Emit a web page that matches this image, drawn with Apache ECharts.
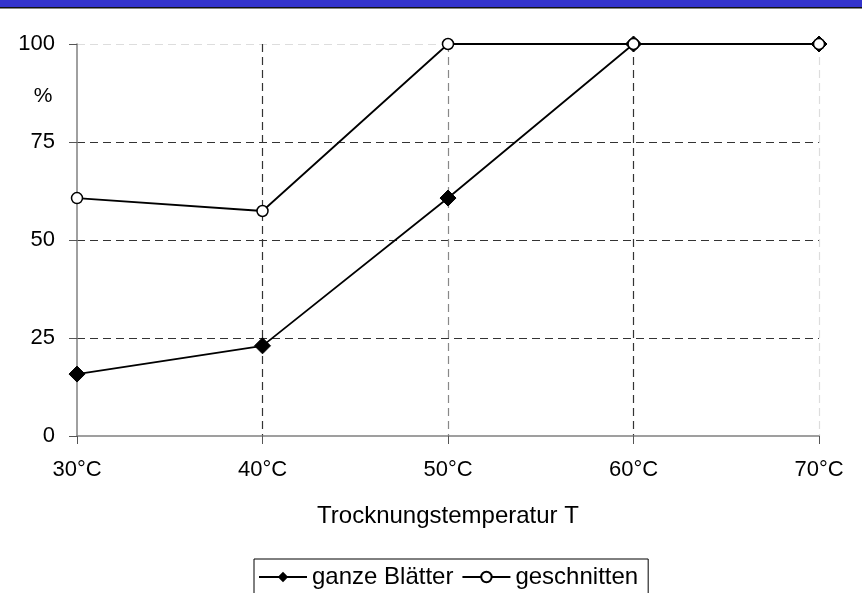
<!DOCTYPE html>
<html>
<head>
<meta charset="utf-8">
<script src="https://cdn.jsdelivr.net/npm/echarts@6/dist/echarts.min.js"></script>
<style>html,body{margin:0;padding:0;background:#fff;}#c{width:862px;height:593px;}</style>
</head>
<body>
<div id="c"></div>
<script>
var categories = ['30°C', '40°C', '50°C', '60°C', '70°C'];
var ganzeBlaetter = [15.8, 23.0, 60.7, 100, 100];
var geschnitten = [60.7, 57.4, 100, 100, 100];
var yTicks = [0, 25, 50, 75, 100];

var FONT = 'Liberation Sans, Arial, sans-serif';
var chart = echarts.init(document.getElementById('c'));
chart.setOption({
  animation: false,
  backgroundColor: '#fff',
  grid: {left: 77, right: 43, top: 44, bottom: 157},
  xAxis: {
    type: 'category',
    data: categories,
    boundaryGap: false,
    name: 'Trocknungstemperatur T',
    nameLocation: 'middle',
    nameGap: 68,
    nameTextStyle: {fontFamily: FONT, fontSize: 24, color: '#000'},
    axisLine: {lineStyle: {color: '#808080', width: 1.5}},
    axisTick: {show: true, length: 8, alignWithLabel: true, lineStyle: {color: '#555'}},
    axisLabel: {fontFamily: FONT, fontSize: 22, color: '#000', margin: 23},
    splitLine: {show: true, lineStyle: {color: ['rgba(0,0,0,0)', '#333', '#888', '#333', '#ddd'], type: [8, 5], width: 1.2}}
  },
  yAxis: {
    type: 'value',
    min: 0, max: 100, interval: 25,
    axisLine: {show: true, lineStyle: {color: '#808080', width: 1.5}},
    axisTick: {show: true, length: 8, lineStyle: {color: '#555'}},
    axisLabel: {fontFamily: FONT, fontSize: 22, color: '#000', margin: 22,
      formatter: function (v) { return yTicks.indexOf(v) >= 0 ? String(v) : ''; }},
    splitLine: {show: true, lineStyle: {color: ['rgba(0,0,0,0)', '#333', '#333', '#333', '#ddd'], type: [8, 5], width: 1.2}}
  },
  legend: {
    bottom: -18,
    left: 254,
    data: ['ganze Blätter', 'geschnitten'],
    borderColor: '#000',
    borderWidth: 1,
    borderRadius: 0,
    padding: [6, 10, 22, 4],
    itemGap: 8,
    itemWidth: 48,
    itemHeight: 13,
    textStyle: {fontFamily: FONT, fontSize: 24, color: '#000'}
  },
  series: [
    {
      name: 'ganze Blätter', type: 'line', data: ganzeBlaetter,
      symbol: 'diamond', symbolSize: 16,
      lineStyle: {color: '#000', width: 1.8},
      itemStyle: {color: '#000', borderColor: '#000'},
      z: 3
    },
    {
      name: 'geschnitten', type: 'line', data: geschnitten,
      symbol: 'circle', symbolSize: 11,
      lineStyle: {color: '#000', width: 1.8},
      itemStyle: {color: '#fff', borderColor: '#000', borderWidth: 1.5},
      z: 4
    }
  ],
  graphic: [
    {type: 'rect', shape: {x: 0, y: 0, width: 862, height: 7}, style: {fill: '#3333cc'}, z: 100},
    {type: 'rect', shape: {x: 0, y: 7, width: 862, height: 1.5}, style: {fill: '#111'}, z: 100},
    {type: 'text', x: 43, y: 96, style: {text: '%', fontFamily: FONT, fontSize: 21, fill: '#000', align: 'center', verticalAlign: 'middle'}, z: 100},
    {type: 'text', x: -6.5, y: 233, rotation: Math.PI / 2, style: {text: 'Verlust an ätherischem Öl', fontFamily: FONT, fontSize: 24, fill: '#000', align: 'center', verticalAlign: 'middle'}, z: 100}
  ]
});
</script>
</body>
</html>
